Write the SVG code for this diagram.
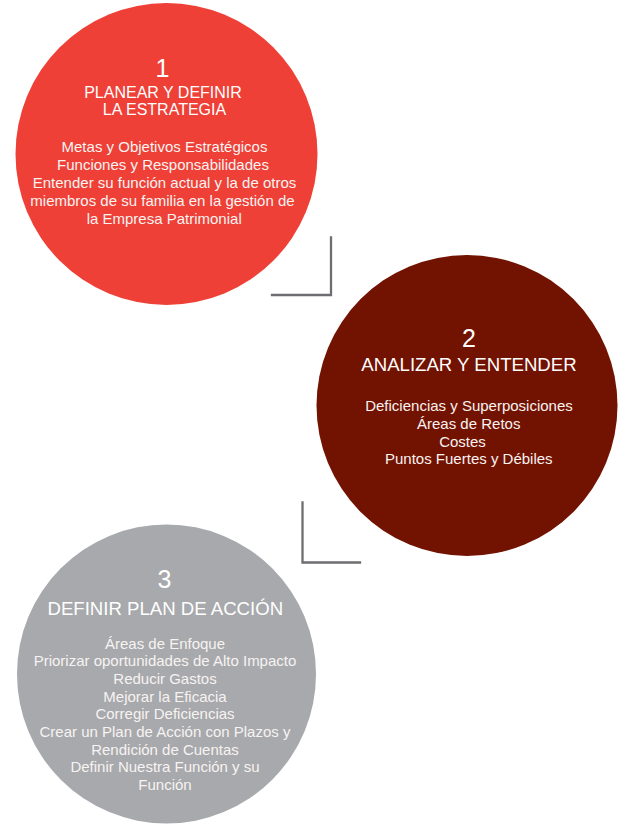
<svg xmlns="http://www.w3.org/2000/svg" width="623" height="824" viewBox="0 0 623 824">
<style>
text{font-family:"Liberation Sans",Arial,sans-serif;fill:#ffffff;text-anchor:middle}
.num{font-size:25px}
.h1{font-size:16px}
.h{font-size:18.6px}
.b{font-size:15px;fill:#f7f3f2}
.conn{fill:none;stroke:#6d6e71;stroke-width:2.3;stroke-linecap:square}
</style>
<rect width="623" height="824" fill="#ffffff"/>
<g id="connectors">
<polyline class="conn" points="331,237.5 331,295 272,295"/>
<polyline class="conn" points="302.5,502.5 302.5,562.5 360,562.5"/>
</g>
<g id="node1">
<circle cx="166.5" cy="154" r="151" fill="#ee4036"/>
<text class="num" x="162.5" y="76.7">1</text>
<text class="h1" x="163" y="97.5">PLANEAR Y DEFINIR</text>
<text class="h1" x="164.5" y="115">LA ESTRATEGIA</text>
<text class="b" x="164.5" y="151.5">Metas y Objetivos Estratégicos</text>
<text class="b" x="163" y="169.5">Funciones y Responsabilidades</text>
<text class="b" x="164.5" y="187.7">Entender su función actual y la de otros</text>
<text class="b" x="162.5" y="205.8">miembros de su familia en la gestión de</text>
<text class="b" x="164.2" y="224">la Empresa Patrimonial</text>
</g>
<g id="node2">
<circle cx="467" cy="405.5" r="150.5" fill="#721200"/>
<text class="num" x="469" y="347.3">2</text>
<text class="h" x="469" y="371">ANALIZAR Y ENTENDER</text>
<text class="b" x="469" y="410.7">Deficiencias y Superposiciones</text>
<text class="b" x="468.7" y="428.7">Áreas de Retos</text>
<text class="b" x="462.5" y="446.5">Costes</text>
<text class="b" x="468.8" y="464.3">Puntos Fuertes y Débiles</text>
</g>
<g id="node3">
<circle cx="166.5" cy="674" r="149.5" fill="#a7a9ac"/>
<text class="num" x="164.5" y="588.3">3</text>
<text class="h" x="165.3" y="615">DEFINIR PLAN DE ACCIÓN</text>
<text class="b" x="165" y="648.5">Áreas de Enfoque</text>
<text class="b" x="165" y="666.2">Priorizar oportunidades de Alto Impacto</text>
<text class="b" x="165" y="683.9">Reducir Gastos</text>
<text class="b" x="165" y="701.6">Mejorar la Eficacia</text>
<text class="b" x="165" y="719.3">Corregir Deficiencias</text>
<text class="b" x="165" y="737">Crear un Plan de Acción con Plazos y</text>
<text class="b" x="165" y="754.7">Rendición de Cuentas</text>
<text class="b" x="165" y="772.4">Definir Nuestra Función y su</text>
<text class="b" x="165" y="790.1">Función</text>
</g>
</svg>
